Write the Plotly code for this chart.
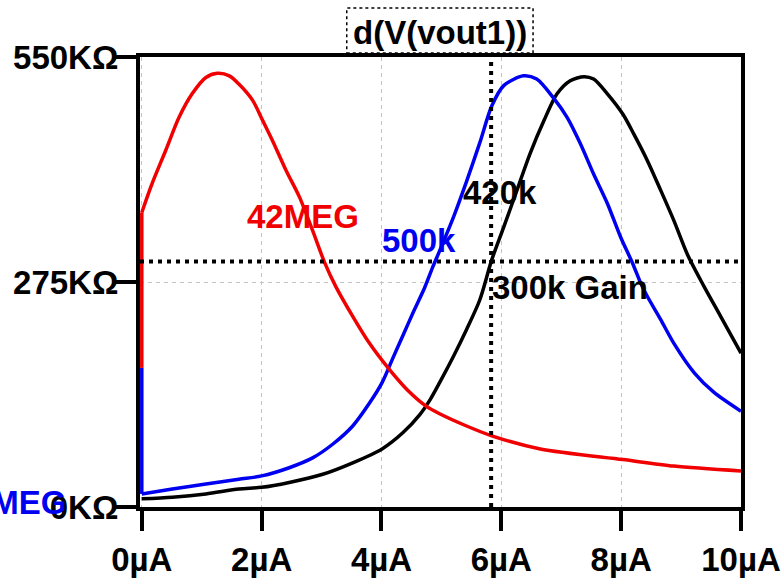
import plotly.graph_objects as go

# ---- data (x in uA, y in kOhm) ----
red_x = [0, 0, 0.17, 0.40, 0.62, 0.84, 1.07, 1.26, 1.46, 1.62, 1.85, 2.02, 2.18, 2.41, 2.63, 2.85, 3.05,
         3.24, 3.52, 3.80, 4.11, 4.42, 4.75, 4.97, 5.42, 5.84, 6.65, 8.03, 8.88, 10.0]
red_y = [170, 360, 395, 436, 476, 505, 525, 530, 527, 517, 497, 472, 448, 411, 379, 338, 299,
         269, 233, 200, 170, 144, 123, 114, 99, 87, 71, 58, 50, 44]

blue_x = [0, 0, 0.51, 1.07, 1.62, 2.0, 2.46, 2.85, 3.19, 3.52, 3.80, 4.01, 4.19, 4.36, 4.53, 4.72,
          4.86, 4.97, 5.20, 5.42, 5.64, 5.84, 6.04, 6.37, 6.59, 6.87, 7.10, 7.32, 7.54, 7.77, 7.99,
          8.19, 8.33, 8.44, 8.66, 8.88, 9.22, 9.55, 10.0]
blue_y = [170, 16, 22, 28, 34, 38, 48, 60, 77, 99, 127, 152, 182, 210, 238, 268,
          294, 313, 354, 398, 445, 490, 515, 527, 523, 500, 476, 444, 407, 371, 330,
          298, 273, 257, 229, 200, 164, 140, 117]

black_x = [0, 0.51, 1.07, 1.62, 2.0, 2.46, 3.02, 3.52, 4.01, 4.36, 4.64, 4.81, 4.97, 5.20, 5.42, 5.64,
           5.84, 6.04, 6.26, 6.48, 6.71, 6.93, 7.15, 7.38, 7.54, 7.77, 8.03, 8.21, 8.44, 8.66, 8.88,
           9.11, 9.38, 9.66, 10.0]
black_y = [10, 12, 16, 22, 24, 30, 40, 54, 71, 91, 113, 131, 152, 184, 217, 253,
           302, 342, 387, 432, 472, 505, 521, 526, 523, 505, 480, 456, 423, 387, 350,
           308, 270, 233, 188]

x_tickvals = [0, 2, 4, 6, 8, 10]
x_ticktext = ["0µA", "2µA", "4µA", "6µA", "8µA", "10µA"]
y_tickvals = [0, 275, 550]
y_ticktext = ["0KΩ", "275KΩ", "550KΩ"]

cursor_x = 5.83
cursor_y = 300

RED = "#f00000"
BLUE = "#0000f0"

labels = [
    ("42MEG", 2.69, 355, RED),
    ("500k", 4.62, 326, BLUE),
    ("420k", 5.98, 385, "black"),
    ("300k Gain", 7.15, 268, "black"),
]

FONT = "Liberation Sans, Arial, sans-serif"
FS = 33
LW = 3.5

fig = go.Figure()


def add_series(xs, ys, color, n_start):
    # initial vertical step at x=0 drawn straight, rest smoothed
    if n_start > 1:
        fig.add_trace(go.Scatter(x=xs[:n_start], y=ys[:n_start], mode="lines",
                                 line=dict(color=color, width=LW)))
    fig.add_trace(go.Scatter(x=xs[n_start - 1:], y=ys[n_start - 1:], mode="lines",
                             line=dict(color=color, width=LW, shape="spline", smoothing=0.8)))


add_series(black_x, black_y, "black", 1)
add_series(blue_x, blue_y, BLUE, 2)
add_series(red_x, red_y, RED, 2)

# cursors
fig.add_shape(type="line", xref="x", yref="paper", x0=cursor_x, x1=cursor_x, y0=0, y1=1,
              line=dict(color="black", width=4, dash="4px,5px"), layer="above")
fig.add_shape(type="line", xref="paper", yref="y", x0=0, x1=1, y0=cursor_y, y1=cursor_y,
              line=dict(color="black", width=4, dash="4px,5px"), layer="above")

for text, lx, ly, col in labels:
    fig.add_annotation(x=lx, y=ly, xref="x", yref="y", text=text, showarrow=False,
                       xanchor="center", yanchor="middle",
                       font=dict(family=FONT, size=FS, color=col, weight="bold"))

# partially hidden blue label at bottom-left
fig.add_annotation(x=-0.118, y=6, xref="paper", yref="y", text="1MEG", showarrow=False,
                   xanchor="right", yanchor="middle",
                   font=dict(family=FONT, size=FS, color=BLUE, weight="bold"))

# title with dotted box
fig.add_shape(type="rect", xref="paper", yref="paper", x0=0.344, x1=0.654, y0=1.009, y1=1.109,
              line=dict(color="black", width=1.5, dash="dot"))
fig.add_annotation(x=0.4995, y=1.055, xref="paper", yref="paper", text="d(V(vout1))", showarrow=False,
                   xanchor="center", yanchor="middle",
                   font=dict(family=FONT, size=33, color="black", weight="bold"))

axis_common = dict(showline=True, linecolor="black", linewidth=4, mirror=True,
                   ticks="outside", ticklen=20, tickwidth=4, tickcolor="black",
                   showgrid=True, gridcolor="#c4c4c4", gridwidth=1, griddash="4px,4px",
                   zeroline=False, automargin=False,
                   tickfont=dict(family=FONT, size=FS, color="black", weight="bold"))

fig.update_xaxes(range=[-0.03, 10], tickvals=x_tickvals, ticktext=x_ticktext, **axis_common)
fig.update_yaxes(range=[0, 550], tickvals=y_tickvals, ticktext=y_ticktext,
                 ticklabelstandoff=-9, **axis_common)

fig.update_layout(width=783, height=578, margin=dict(l=140, r=42, t=57, b=71),
                  plot_bgcolor="white", paper_bgcolor="white", showlegend=False)

fig.write_html("out.html")
